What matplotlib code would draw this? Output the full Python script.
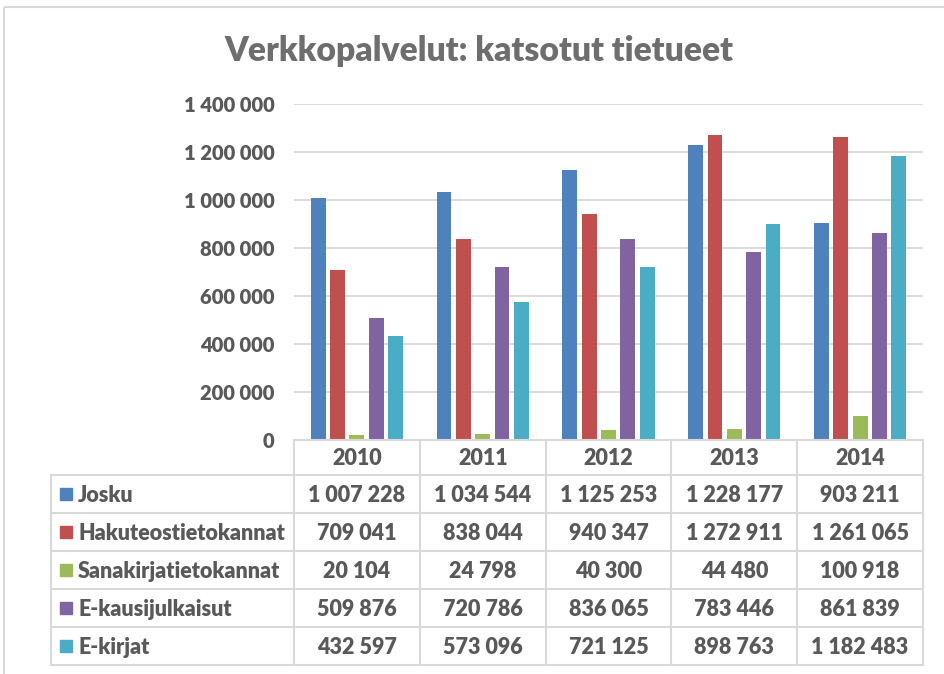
import matplotlib.pyplot as plt
from matplotlib.lines import Line2D
from matplotlib.patches import Rectangle

years = ["2010", "2011", "2012", "2013", "2014"]
series = ["Josku", "Hakuteostietokannat", "Sanakirjatietokannat",
          "E-kausijulkaisut", "E-kirjat"]
josku = [1007228, 1034544, 1125253, 1228177, 903211]
hakuteos = [709041, 838044, 940347, 1272911, 1261065]
sanakirja = [20104, 24798, 40300, 44480, 100918]
ekausi = [509876, 720786, 836065, 783446, 861839]
ekirjat = [432597, 573096, 721125, 898763, 1182483]
colors = ["#4F81BD", "#C0504D", "#9BBB59", "#8064A2", "#4BACC6"]

values = [josku, hakuteos, sanakirja, ekausi, ekirjat]


def fmt(v):
    return f"{v:,}".replace(",", " ")


W, H = 944, 674
TXT = "#595959"
GRID = "#d9d9d9"
WT = "heavy"
plt.rcParams["font.family"] = ["Lato", "DejaVu Sans"]

fig = plt.figure(figsize=(W / 100, H / 100), dpi=100)

# pixel layout
ax_l, ax_r, ax_top, ax_bot = 294, 923, 104, 440
tab_left = 51
row_h = 38
head_bot = 475

ax = fig.add_axes([ax_l / W, 1 - ax_bot / H, (ax_r - ax_l) / W,
                   (ax_bot - ax_top) / H])
n = len(series)
step = 0.154
bw = 0.118
for i, (name, vals, c) in enumerate(zip(series, values, colors)):
    xs = [j + (i - (n - 1) / 2) * step for j in range(len(years))]
    ax.bar(xs, vals, width=bw, color=c, zorder=3)

ax.set_xlim(-0.5, len(years) - 0.5)
ax.set_ylim(0, 1400000)
yt = list(range(0, 1400001, 200000))
ax.set_yticks(yt)
ax.set_yticklabels([fmt(v) for v in yt], color=TXT, fontsize=14.5,
                   fontweight=WT)
ax.tick_params(axis="y", length=0, pad=14)
ax.set_xticks([])
ax.grid(axis="y", color=GRID, linewidth=1.3, zorder=0)
for s in ax.spines.values():
    s.set_visible(False)

# overlay axes in pixel coords for title, table, frame
ov = fig.add_axes([0, 0, 1, 1], facecolor="none")
ov.set_xlim(0, W)
ov.set_ylim(H, 0)
ov.axis("off")

ov.add_patch(Rectangle((4, 7), W + 10, H + 10, fill=False,
                       edgecolor="#d9d9d9", linewidth=1.5))
ov.text(479, 51, "Verkkopalvelut: katsotut tietueet", ha="center",
        va="center", fontsize=24.2, fontweight=WT, color="#6e6e6e")

col_w = (ax_r - ax_l) / len(years)
col_x = [ax_l + k * col_w for k in range(len(years) + 1)]
tab_bot = head_bot + row_h * n
lw = 1.5
# header row lines
ov.add_line(Line2D([ax_l, ax_r], [ax_bot, ax_bot], color=GRID, lw=lw))
for x in col_x:
    ov.add_line(Line2D([x, x], [ax_bot, tab_bot], color=GRID, lw=lw))
ov.add_line(Line2D([tab_left, tab_left], [head_bot, tab_bot], color=GRID, lw=lw))
for r in range(n + 1):
    y = head_bot + r * row_h
    ov.add_line(Line2D([tab_left, ax_r], [y, y], color=GRID, lw=lw))

for k, yr in enumerate(years):
    ov.text((col_x[k] + col_x[k + 1]) / 2, (ax_bot + head_bot) / 2 + 1, yr,
            ha="center", va="center", fontsize=15.5, fontweight=WT, color=TXT)

for r, (name, vals, c) in enumerate(zip(series, values, colors)):
    yc = head_bot + r * row_h + row_h / 2
    ov.add_patch(Rectangle((60, yc - 6), 12, 12, color=c))
    ov.text(78, yc + 1, name, ha="left", va="center", fontsize=15.5,
            fontweight=WT, color=TXT)
    for k, v in enumerate(vals):
        ov.text((col_x[k] + col_x[k + 1]) / 2, yc + 1, fmt(v), ha="center",
                va="center", fontsize=15.5, fontweight=WT, color=TXT)

fig.savefig("out.png", dpi=100, facecolor="white")
